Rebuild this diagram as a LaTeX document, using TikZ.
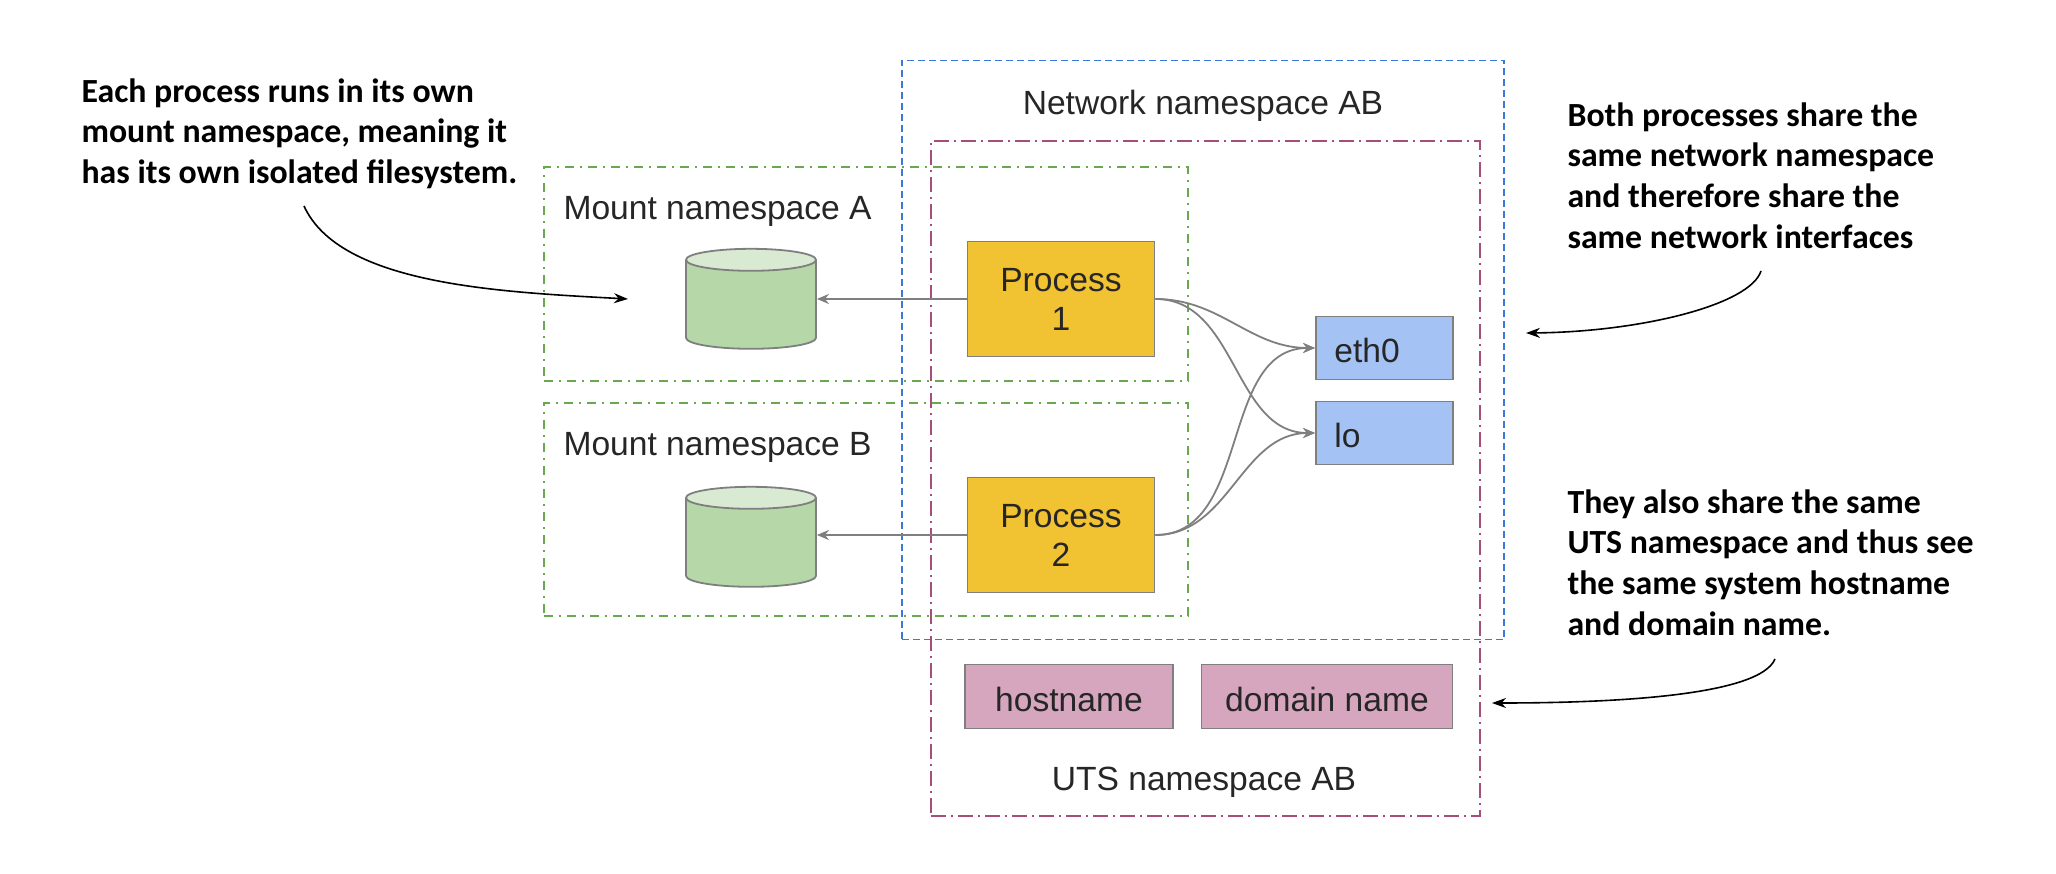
\documentclass[tikz,border=0pt]{standalone}
\usepackage{fontspec}
\setmainfont{Liberation Sans}
\newfontfamily\notefont{Carlito}[BoldFont={Carlito Bold}]
\usetikzlibrary{positioning,shapes.geometric,arrows.meta}

\definecolor{procyellow}{HTML}{F1C232}
\definecolor{diskgreen}{HTML}{B6D7A8}
\definecolor{disktop}{HTML}{D9EAD3}
\definecolor{ifaceblue}{HTML}{A4C2F4}
\definecolor{utspink}{HTML}{D5A6BD}
\definecolor{mountdash}{HTML}{6AA84F}
\definecolor{netdash}{HTML}{3C78D8}
\definecolor{utsdash}{HTML}{A64D79}
\definecolor{edgegray}{HTML}{7F7F7F}
\definecolor{textgray}{HTML}{262626}

\tikzset{
  mountbox/.style={draw=mountdash, line width=1.6pt, dash pattern=on 9pt off 6pt on 2pt off 6pt},
  netbox/.style={draw=netdash, line width=1.8pt, dash pattern=on 7pt off 4pt},
  utsbox/.style={draw=utsdash, line width=2pt, dash pattern=on 15pt off 5pt on 2pt off 5pt},
  title/.style={text=textgray, font=\fontsize{33.6}{39}\selectfont},
  fillbox/.style={draw=edgegray, line width=1.8pt, text=textgray, align=center, font=\fontsize{33.6}{39}\selectfont},
  process/.style={fillbox, fill=procyellow, minimum width=187pt, minimum height=115pt},
  iface/.style={fillbox, fill=ifaceblue, text width=100pt, align=left, inner xsep=0pt, minimum width=137pt, minimum height=63pt, anchor=west, text height=29pt},
  utsitem/.style={fillbox, fill=utspink, minimum height=64pt, text height=30pt},
  disk/.style={cylinder, shape border rotate=90, draw=edgegray, line width=1.8pt, cylinder uses custom fill,
    cylinder body fill=diskgreen, cylinder end fill=disktop, aspect=3.3, minimum width=130pt, minimum height=100pt},
  link/.style={draw=edgegray, line width=1.8pt, -{Stealth[length=12pt,width=10pt]}},
  note/.style={anchor=north west, align=left, text=black, font=\notefont\bfseries\fontsize{33.8}{40.6}\selectfont},
  callout/.style={draw=black, line width=1.6pt, -{Stealth[length=14pt,width=10pt]}}
}

\begin{document}
\begin{tikzpicture}[x=1pt,y=-1pt]
\useasboundingbox (0,0) rectangle (2056,874);

% Namespaces
  \node[mountbox, minimum width=644pt, minimum height=214pt] (mountA) at (866,274) {}; %
  \node[mountbox, minimum width=644pt, minimum height=213pt] (mountB) at (866,509.5) {}; %
  \node[netbox, minimum width=602pt, minimum height=579pt]   (net)    at (1203,350) {}; %
  \node[utsbox, minimum width=549pt, minimum height=675pt]   (uts)    at (1205.5,478.5) {}; %

% Titles
  \node[title, anchor=west] (mountAtitle) at (560,211) {Mount namespace A}; %
  \node[title, anchor=west] (mountBtitle) at (560,447) {Mount namespace B}; %
  \node[title]              (nettitle)    at (1203,106) {Network namespace AB}; %
  \node[title]              (utstitle)    at (1204,782) {UTS namespace AB}; %

% Nodes
  \node[process] (procA) at (1061,299) {Process\\1}; %
  \node[process] (procB) at (1061,535) {Process\\2}; %
  \node[disk]    (diskA) at (751,306.5) {}; %
  \node[disk]    (diskB) at (751,544.5) {}; %
  \node[iface]   (eth)   at (1315,348) {eth0}; %
  \node[iface]   (lo)    at (1315,433) {lo}; %
  \node[utsitem, minimum width=208pt] (hostname) at (1069,696.5) {hostname}; %
  \node[utsitem, minimum width=251pt] (domain)   at (1327,696.5) {domain name}; %

% Notes
  \node[note] (noteA) at (78,75)    {Each process runs in its own\\mount namespace, meaning it\\has its own isolated filesystem.}; %
  \node[note] (noteB) at (1564,99)  {Both processes share the\\same network namespace\\and therefore share the\\same network interfaces}; %
  \node[note] (noteC) at (1564,486) {They also share the same\\UTS namespace and thus see\\the same system hostname\\and domain name.}; %

  \coordinate (noteAstart) at (304,206); %
  \coordinate (noteAend)   at (628,299); %
  \coordinate (noteBstart) at (1761,271); %
  \coordinate (noteBend)   at (1526,333); %
  \coordinate (noteCstart) at (1775,659); %
  \coordinate (noteCend)   at (1492,703); %

% Edges
  \draw[link] (procA.west) -- (procA.west -| diskA.east); %
  \draw[link] (procB.west) -- (procB.west -| diskB.east); %
  \draw[link] (procA.east) to[out=0, in=180] (eth.west); %
  \draw[link] (procA.east) to[out=0, in=180] (lo.west); %
  \draw[link] (procB.east) to[out=0, in=180] (eth.west); %
  \draw[link] (procB.east) to[out=0, in=180] (lo.west); %

  \draw[callout] (noteAstart) .. controls (340,285) and (500,292) .. (noteAend); %
  \draw[callout] (noteBstart) .. controls (1750,305) and (1640,332) .. (noteBend); %
  \draw[callout] (noteCstart) .. controls (1760,695) and (1620,703) .. (noteCend); %

\end{tikzpicture}
\end{document}
